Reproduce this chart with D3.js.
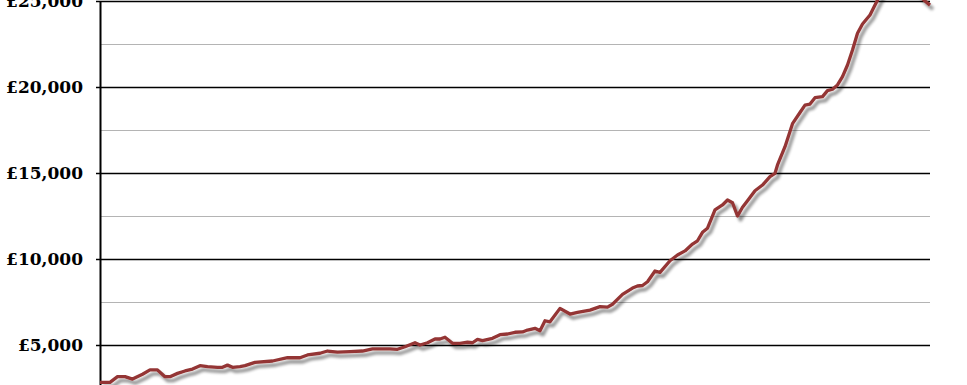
<!DOCTYPE html>
<html>
<head>
<meta charset="utf-8">
<script src="https://cdn.jsdelivr.net/npm/d3@7"></script>
<style>
  body { margin: 0; background: #fff; }
  svg { display: block; }
</style>
</head>
<body>
<div id="chart"></div>
<script>
// time steps (position along the x axis) and average price at each step
var steps = [0, 4, 7, 10, 13, 17, 20, 23, 26, 28, 31, 34, 37, 40, 43, 47, 49, 51, 53, 56,
  58, 62, 69, 75, 80, 83, 88, 91, 95, 100, 105, 109, 116, 119, 122, 126, 128, 131, 134, 136,
  138, 141, 144, 147, 149, 151, 153, 157, 160, 163, 166, 169, 171, 174, 176, 178, 180, 184, 188, 191,
  196, 200, 203, 205, 209, 213, 215, 217, 219, 222, 224, 228, 231, 234, 237, 239, 241, 243, 246, 249,
  251, 253, 255, 257, 259, 262, 265, 268, 270, 271, 274, 277, 280, 282, 284, 286, 289, 291, 293, 295,
  297, 299, 301, 303, 305, 308, 310, 313, 316, 319, 322, 325, 328, 330, 332];

var prices = [2830, 2830, 3160, 3160, 3020, 3300, 3550, 3550, 3160, 3160, 3350, 3490, 3600, 3800, 3740, 3700, 3700, 3830, 3700, 3740,
  3800, 3990, 4070, 4260, 4260, 4420, 4520, 4650, 4580, 4610, 4650, 4770, 4770, 4750, 4900, 5130, 5000, 5130, 5350, 5350,
  5450, 5100, 5100, 5160, 5130, 5330, 5250, 5390, 5600, 5640, 5740, 5760, 5870, 5970, 5830, 6410, 6350, 7130, 6800, 6900,
  7030, 7230, 7200, 7370, 7940, 8310, 8430, 8460, 8680, 9300, 9220, 9900, 10230, 10470, 10870, 11060, 11550, 11790, 12850, 13140,
  13430, 13270, 12500, 13010, 13390, 13970, 14300, 14790, 14980, 15470, 16530, 17870, 18520, 18950, 19010, 19380, 19440, 19790, 19870, 20120,
  20600, 21280, 22150, 23120, 23660, 24190, 24770, 25600, 26200, 26500, 26300, 25900, 25300, 25000, 24760];

var gridValues = [2500, 5000, 7500, 10000, 12500, 15000, 17500, 20000, 22500, 25000];
var tickValues = [5000, 10000, 15000, 20000, 25000];

var width = 967, height = 385;

var svg = d3.select("#chart")
  .append("svg")
  .attr("width", width)
  .attr("height", height);

var x = d3.scaleLinear().domain([0, 332]).range([100, 930]);
var y = d3.scaleLinear().domain([0, 25000]).range([431, 1]);

// shadow under the line
var defs = svg.append("defs");
var f = defs.append("filter").attr("id", "shadow")
  .attr("x", "-5%").attr("y", "-5%").attr("width", "110%").attr("height", "120%");
f.append("feGaussianBlur").attr("in", "SourceAlpha").attr("stdDeviation", 1.6).attr("result", "blur");
f.append("feOffset").attr("in", "blur").attr("dx", 3).attr("dy", 4).attr("result", "off");
f.append("feComponentTransfer").attr("in", "off").attr("result", "soft")
  .append("feFuncA").attr("type", "linear").attr("slope", 0.45);
var merge = f.append("feMerge");
merge.append("feMergeNode").attr("in", "soft");
merge.append("feMergeNode").attr("in", "SourceGraphic");

// gridlines
svg.append("g")
  .selectAll("line")
  .data(gridValues)
  .enter()
  .append("line")
  .attr("x1", x(0))
  .attr("x2", x(332))
  .attr("y1", function (d) { return Math.round(y(d)) + 0.5; })
  .attr("y2", function (d) { return Math.round(y(d)) + 0.5; })
  .attr("stroke", function (d) { return d % 5000 == 0 ? "#000" : "#b4b4b4"; })
  .attr("stroke-width", function (d) { return d % 5000 == 0 ? 1.3 : 1; });

// y axis
var yAxis = svg.append("g")
  .attr("transform", "translate(" + x(0) + ",0)")
  .call(d3.axisLeft(y)
    .tickValues(tickValues)
    .tickSizeInner(4)
    .tickSizeOuter(0)
    .tickPadding(13)
    .tickFormat(function (d) { return "£" + d3.format(",")(d); }));

yAxis.select(".domain").attr("stroke", "#000").attr("stroke-width", 2);
yAxis.selectAll(".tick line").attr("stroke", "#000").attr("stroke-width", 1.5);
yAxis.selectAll(".tick text")
  .attr("fill", "#000")
  .style("font-family", "'DejaVu Serif', serif")
  .style("font-weight", "bold")
  .style("font-size", "17px");

// price line
var data = steps.map(function (s, i) { return { step: s, price: prices[i] }; });

var line = d3.line()
  .x(function (d) { return x(d.step); })
  .y(function (d) { return y(d.price); });

svg.append("path")
  .datum(data)
  .attr("d", line)
  .attr("fill", "none")
  .attr("stroke", "#943634")
  .attr("stroke-width", 3.3)
  .attr("stroke-linejoin", "round")
  .attr("filter", "url(#shadow)");
</script>
</body>
</html>
